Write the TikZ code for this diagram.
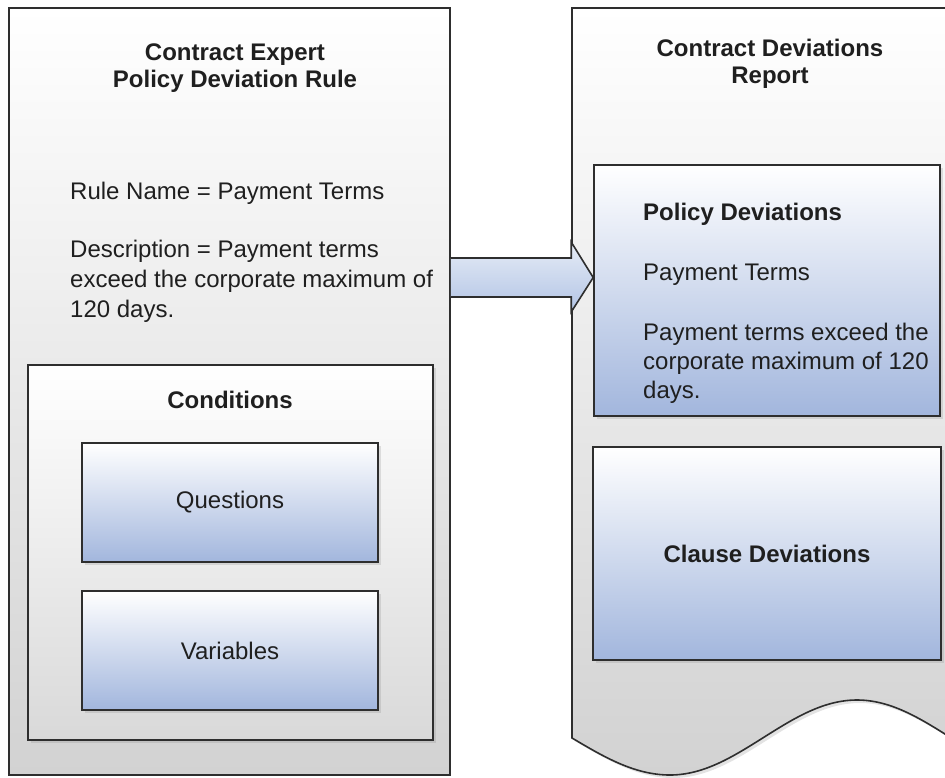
\documentclass[tikz,border=0pt]{standalone}
\usepackage{fontspec}
\setmainfont{Liberation Sans}
\usepackage{xcolor}
\usetikzlibrary{shadows}
\definecolor{edge}{HTML}{2E2E2E}
\definecolor{panelgrey}{HTML}{D2D2D2}
\definecolor{insetgrey}{HTML}{D9D9D9}
\definecolor{partblue}{HTML}{A2B6DD}
\definecolor{flowtop}{HTML}{E6ECF6}
\definecolor{flowblue}{HTML}{B2C4E5}

\begin{document}
\begin{tikzpicture}[x=1pt, y=-1pt,
    every node/.style={align=center, inner sep=0pt, text=black!88, font=\fontsize{24}{29}\selectfont},
    title/.style={font=\fontsize{24}{27}\selectfont\bfseries},
    softshadow/.style={drop shadow={opacity=0.22, shadow xshift=3pt, shadow yshift=-3pt}},
    panel/.style={draw=edge, line width=1.6pt, top color=white, bottom color=panelgrey},
    inset/.style={draw=edge, line width=1.6pt, top color=white, bottom color=insetgrey, softshadow},
    part/.style={draw=edge, line width=1.6pt, top color=white, bottom color=partblue, softshadow},
    flow/.style={draw=edge, line width=1.6pt, top color=flowtop, bottom color=flowblue}]
    \useasboundingbox (0,0) rectangle (945,777);
    % report page with torn bottom
    \draw[panel, softshadow] (572,8) -- (572,738) sin (670,775) cos (763.5,737.5) sin (857,700) cos (950.5,737.5) -- (965,745) -- (965,8) -- cycle;
    \node[panel, minimum width=441pt, minimum height=767pt] (rule) at (229.5,391.5) {};
    \node[title, anchor=north] (ruleTitle) at (235,43.5) {Contract Expert\\Policy Deviation Rule};
    \node[anchor=north west, align=left] (ruleName) at (70,181.8) {Rule Name = Payment Terms};
    \node[anchor=north west, align=left, font=\fontsize{24}{30}\selectfont] (ruleDesc) at (70,239.8) {Description = Payment terms\\exceed the corporate maximum of\\120 days.};
    \node[inset, minimum width=405pt, minimum height=375pt] (conditions) at (230.5,552.5) {};
    \node[title, anchor=base] (condTitle) at (230,408) {Conditions};
    \node[part, minimum width=296pt, minimum height=119pt] (questions) at (230,502.5) {Questions};
    \node[part, minimum width=296pt, minimum height=119pt] (variables) at (230,650.5) {Variables};
    \node[title, anchor=north] (reportTitle) at (770,38.5) {Contract Deviations\\Report};
    \node[part, minimum width=346pt, minimum height=251pt] (policy) at (767,290.5) {};
    \node[title, anchor=north west] (policyTitle) at (643,202.8) {Policy Deviations};
    \node[anchor=north west, align=left] (policyName) at (643,263.8) {Payment Terms};
    \node[anchor=north west, align=left] (policyDesc) at (643,322.8) {Payment terms exceed the\\corporate maximum of 120\\days.};
    \node[part, title, minimum width=348pt, minimum height=213pt] (clause) at (767,553.5) {Clause Deviations};
    % block arrow
    \coordinate (tip) at (policy.west |- 0,277.5);
    \draw[flow] (rule.east |- 0,258) -- ([xshift=-22pt]tip |- 0,258) -- ([xshift=-22pt]tip |- 0,242) -- (tip) -- ([xshift=-22pt]tip |- 0,312) -- ([xshift=-22pt]tip |- 0,297) -- (rule.east |- 0,297);
\end{tikzpicture}
\end{document}
